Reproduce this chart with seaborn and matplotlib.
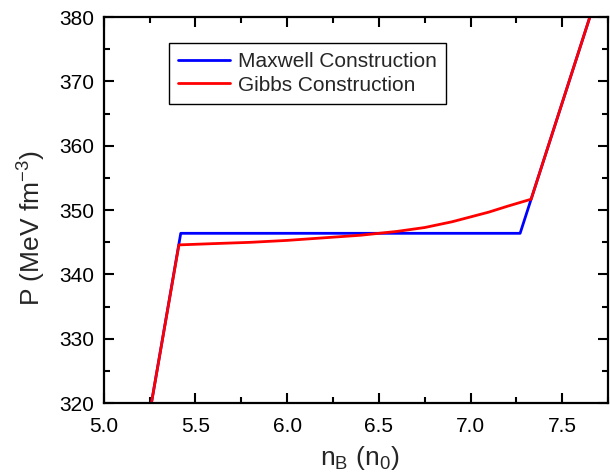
import numpy as np
import pandas as pd
import matplotlib
matplotlib.use("Agg")
import matplotlib.pyplot as plt
import seaborn as sns
from matplotlib.ticker import MultipleLocator

# Data
maxwell_x = [5.26, 5.42, 7.27, 7.33, 7.65]
maxwell_y = [320.0, 346.4, 346.4, 351.7, 380.0]
gibbs_x = [5.26, 5.41, 5.6, 5.8, 6.0, 6.2, 6.4, 6.5, 6.6, 6.75, 6.9, 7.1, 7.2, 7.33, 7.65]
gibbs_y = [320.0, 344.6, 344.8, 345.0, 345.3, 345.7, 346.1, 346.4, 346.7, 347.3, 348.2, 349.7, 350.6, 351.7, 380.0]
labels = ["Maxwell Construction", "Gibbs Construction"]
colors = ["#0000ff", "#ff0000"]
xticks = [5.0, 5.5, 6.0, 6.5, 7.0, 7.5]
yticks = [320, 330, 340, 350, 360, 370, 380]

df = pd.concat([
    pd.DataFrame({"x": maxwell_x, "y": maxwell_y, "s": labels[0], "o": range(len(maxwell_x))}),
    pd.DataFrame({"x": gibbs_x, "y": gibbs_y, "s": labels[1], "o": range(len(gibbs_x))}),
])

sns.set_style("ticks")
plt.rcParams['font.family'] = ['Liberation Sans', 'DejaVu Sans']
plt.rcParams['axes.unicode_minus'] = False

fig = plt.figure(figsize=(6.1, 4.76), dpi=100)
ax = fig.add_axes([0.170, 0.153, 0.827, 0.811])

sns.lineplot(data=df, x="x", y="y", hue="s", palette=colors, sort=False,
             estimator=None, linewidth=2.0, ax=ax, legend=True)

ax.set_xlim(5.0, 7.75)
ax.set_ylim(320, 380)
ax.set_xticks(xticks)
ax.set_yticks(yticks)
ax.set_xticklabels([f"{v:.1f}" for v in xticks])
ax.set_yticklabels([str(v) for v in yticks])
ax.xaxis.set_minor_locator(MultipleLocator(0.25))
ax.yaxis.set_minor_locator(MultipleLocator(5))
ax.tick_params(which="both", direction="in", top=True, right=True, width=1.5, colors="black",
               labelsize=15)
ax.tick_params(which="major", length=7)
ax.tick_params(which="minor", length=4)
ax.tick_params(axis="x", pad=10)
ax.tick_params(axis="y", pad=7)
for sp in ax.spines.values():
    sp.set_linewidth(1.6)
    sp.set_color("black")
    sp.set_visible(True)

ax.set_xlabel(r"n$_\mathregular{B}$ (n$_\mathregular{0}$)", fontsize=19)
ax.set_ylabel(r"P (MeV fm$^\mathregular{-3}$)", fontsize=19)
ax.xaxis.set_label_coords(0.508, -0.105)
ax.yaxis.set_label_coords(-0.112, 0.453)

leg = ax.legend(loc="upper left", bbox_to_anchor=(0.129, 0.933), fontsize=15,
                frameon=True, fancybox=False, framealpha=1, edgecolor="black",
                borderaxespad=0, handlelength=2.5, borderpad=0.45, labelspacing=0.2,
                handletextpad=0.35)
leg.get_frame().set_linewidth(1.0)

fig.savefig("out.png", dpi=100)
